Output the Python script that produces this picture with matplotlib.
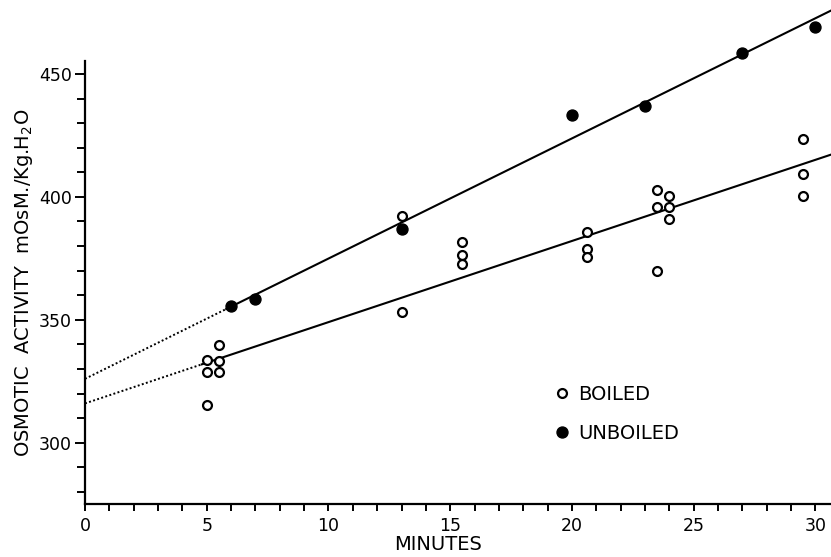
import numpy as np
import matplotlib
matplotlib.use("Agg")
import matplotlib.pyplot as plt

# boiled samples (open circles)
boiled_min = [5, 5, 5, 5.5, 5.5, 5.5, 13, 13, 15.5, 15.5, 15.5,
              20.6, 20.6, 20.6, 23.5, 23.5, 23.5, 24, 24, 24, 29.5, 29.5, 29.5]
boiled_osm = [333.6, 328.6, 315.2, 339.7, 333.3, 328.6, 392.3, 353.1, 381.8, 376.2, 372.6,
              385.8, 378.9, 375.5, 402.7, 396.0, 369.7, 400.3, 395.7, 390.9, 423.7, 409.2, 400.3]

# unboiled samples (filled circles)
unboiled_min = [6, 7, 13, 20, 23, 27, 30]
unboiled_osm = [355.8, 358.3, 386.8, 433.2, 436.8, 458.5, 469.3]

# hand drawn fit lines: dotted extrapolation part, then solid part
unboiled_dot_x = [0, 5.8]
unboiled_dot_y = [326.0, 354.4]
unboiled_fit_x = [5.8, 30.64]
unboiled_fit_y = [354.4, 475.8]
boiled_dot_x = [0, 4.8]
boiled_dot_y = [316.0, 331.9]
boiled_fit_x = [4.8, 30.64]
boiled_fit_y = [331.9, 417.2]

x_major = [0, 5, 10, 15, 20, 25, 30]
y_major = [300, 350, 400, 450]

fig = plt.figure(figsize=(8.31, 5.57), dpi=100)
ax = fig.add_axes([0.1023, 0.0948, 0.8977, 0.9052])

ax.plot(unboiled_dot_x, unboiled_dot_y, color='black', lw=1.4, ls=(0, (1, 1.2)))
ax.plot(unboiled_fit_x, unboiled_fit_y, color='black', lw=1.5, clip_on=False)
ax.plot(boiled_dot_x, boiled_dot_y, color='black', lw=1.4, ls=(0, (1, 1.2)))
ax.plot(boiled_fit_x, boiled_fit_y, color='black', lw=1.5, clip_on=False)

ax.plot(boiled_min, boiled_osm, 'o', ms=6.4, mfc='white', mec='black', mew=1.6,
        ls='none', label='BOILED', zorder=3)
ax.plot(unboiled_min, unboiled_osm, 'o', ms=7.9, mfc='black', mec='black',
        ls='none', label='UNBOILED', zorder=3)

ax.set_xlim(0, 30.64)
ax.set_ylim(275, 480.1)

for s in ['top', 'right']:
    ax.spines[s].set_visible(False)
ax.spines['left'].set_bounds(275, 455.4)
ax.spines['left'].set_linewidth(1.6)
ax.spines['bottom'].set_linewidth(1.6)

ax.set_xticks(x_major)
ax.set_xticklabels([str(v) for v in x_major])
ax.set_xticks(np.arange(0, 31, 1), minor=True)
ax.set_yticks(y_major)
ax.set_yticklabels([str(v) for v in y_major])
ax.set_yticks(np.arange(280, 451, 10), minor=True)

ax.tick_params(axis='x', which='both', direction='out', length=5, width=1.4, pad=4, labelsize=12.5)
ax.tick_params(axis='y', which='major', direction='out', length=7, width=1.4, pad=2.5, labelsize=12.5)
ax.tick_params(axis='y', which='minor', direction='out', length=5.5, width=1.4)

ax.set_xlabel('MINUTES', fontsize=14)
ax.xaxis.set_label_coords(0.473, -0.061)
ax.set_ylabel(r'OSMOTIC  ACTIVITY  mOsM./Kg.H$_2$O', fontsize=14)
ax.yaxis.set_label_coords(-0.067, 0.439)

ax.legend(loc='upper left', bbox_to_anchor=(19.27, 323.6), bbox_transform=ax.transData,
          frameon=False, fontsize=14, handlelength=0.8, handletextpad=0.45,
          labelspacing=1.02, borderpad=0, borderaxespad=0)

fig.savefig('out.png', dpi=100)
